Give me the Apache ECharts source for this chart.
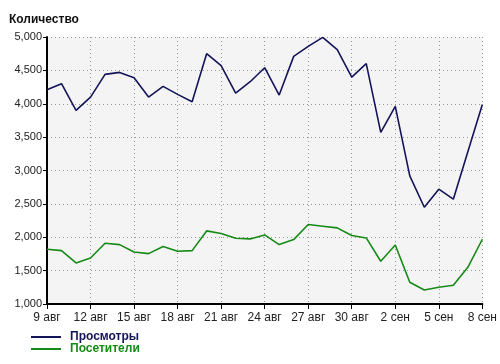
<!DOCTYPE html>
<html><head><meta charset="utf-8">
<script src="https://cdn.jsdelivr.net/npm/echarts@6/dist/echarts.min.js"></script>
<style>html,body{margin:0;padding:0;background:#fff}#c{width:500px;height:364px}</style>
</head><body><div id="c"></div>
<script>
const categories = ['9 авг','10 авг','11 авг','12 авг','13 авг','14 авг','15 авг','16 авг','17 авг','18 авг','19 авг','20 авг','21 авг','22 авг','23 авг','24 авг','25 авг','26 авг','27 авг','28 авг','29 авг','30 авг','31 авг','1 сен','2 сен','3 сен','4 сен','5 сен','6 сен','7 сен','8 сен'];
const views = [4210,4300,3900,4100,4440,4470,4390,4100,4260,4140,4030,4750,4570,4160,4330,4540,4130,4710,4860,4995,4810,4400,4600,3570,3960,2920,2450,2720,2570,3280,3990];
const visitors = [1820,1800,1615,1690,1910,1890,1780,1755,1860,1790,1800,2095,2055,1985,1975,2035,1890,1965,2190,2165,2140,2025,1990,1640,1885,1325,1210,1250,1280,1550,1970];
const seriesNames = ['Просмотры','Посетители'];
const colors = ['#14145a','#168a16'];
const font = 'Arial, "Liberation Sans", sans-serif';
const legendBase = {left:26,itemWidth:30,itemHeight:2,icon:'rect',
  textStyle:{fontSize:12,fontWeight:'bold',fontFamily:font,padding:[0,0,0,4]}};
const chart = echarts.init(document.getElementById('c'));
chart.setOption({
  animation:false,
  textStyle:{fontFamily:font},
  title:{text:'Количество',left:4,top:9,textStyle:{fontSize:12,fontWeight:'bold',color:'#111',fontFamily:font}},
  legend:[
    Object.assign({}, legendBase, {top:326, data:[{name:seriesNames[0],textStyle:{color:colors[0]}}]}),
    Object.assign({}, legendBase, {top:338, data:[{name:seriesNames[1],textStyle:{color:colors[1]}}]})
  ],
  grid:{left:47,right:16,top:37,bottom:60,show:true,backgroundColor:'#f4f4f4',borderWidth:0},
  xAxis:{type:'category',data:categories,boundaryGap:false,
    axisLine:{lineStyle:{color:'#000',width:2}},
    axisTick:{interval:2,length:5,lineStyle:{color:'#000'}},
    axisLabel:{interval:2,color:'#222',fontSize:12,margin:8,fontFamily:font},
    splitLine:{show:true,interval:2,lineStyle:{type:[1,3],color:'#999'}}},
  yAxis:{type:'value',min:1000,max:5000,interval:500,
    axisLine:{show:true,lineStyle:{color:'#000',width:2}},
    axisTick:{show:true,length:4,lineStyle:{color:'#000'}},
    axisLabel:{color:'#222',fontSize:11,margin:5,fontFamily:font,formatter:v=>v.toLocaleString('en-US')},
    splitLine:{show:true,lineStyle:{type:[1,3],color:'#999'}}},
  series:[
    {name:seriesNames[0],type:'line',data:views,symbol:'none',lineStyle:{width:1.6,color:colors[0]},itemStyle:{color:colors[0]}},
    {name:seriesNames[1],type:'line',data:visitors,symbol:'none',lineStyle:{width:1.6,color:colors[1]},itemStyle:{color:colors[1]}}
  ]
});
</script></body></html>
